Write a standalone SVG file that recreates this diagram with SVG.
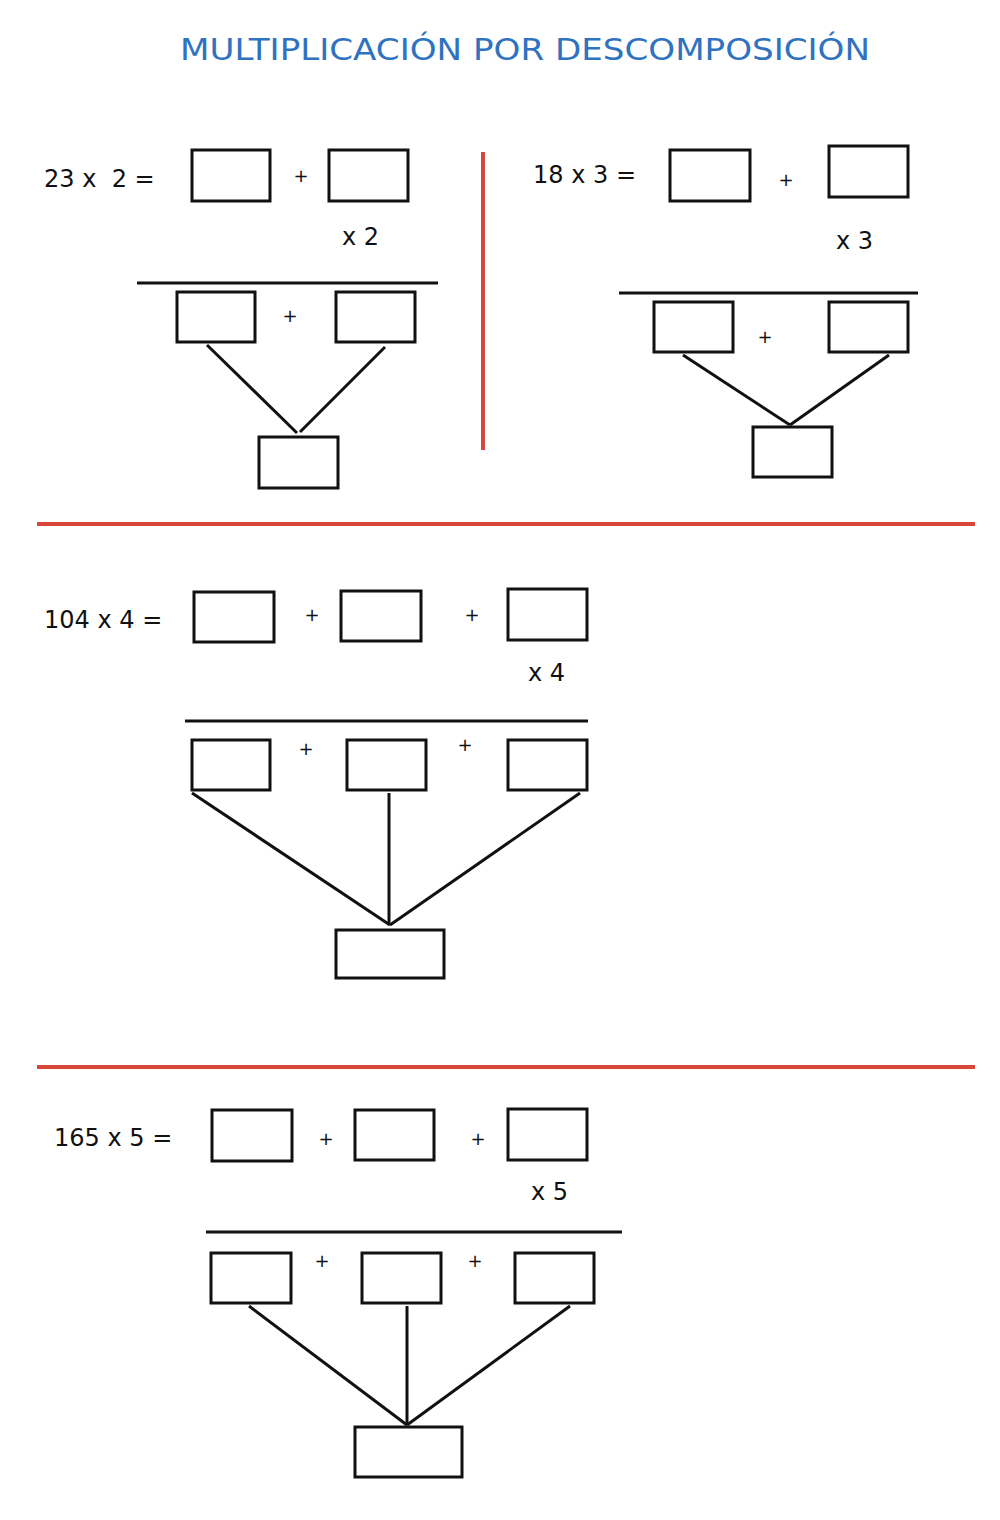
<svg xmlns="http://www.w3.org/2000/svg" width="1000" height="1520" viewBox="0 0 1000 1520">
<style>
.b{fill:none;stroke:#111;stroke-width:3}
.l{stroke:#111;stroke-width:3}
.r{stroke:#d9463a;stroke-width:4}
.t{font-family:"DejaVu Sans",sans-serif;font-size:24px;fill:#111;white-space:pre}
.p{font-family:"DejaVu Sans",sans-serif;font-size:18px;fill:#111;text-anchor:middle}
.h{font-family:"DejaVu Sans",sans-serif;font-size:30px;fill:#2f73c0}
</style>
<rect width="1000" height="1520" fill="#fff"/>
<text class="h" x="180" y="60" textLength="690" lengthAdjust="spacingAndGlyphs">MULTIPLICACIÓN POR DESCOMPOSICIÓN</text>
<g id="separators">
<line class="r" x1="483" y1="152" x2="483" y2="450"/>
<line class="r" x1="37" y1="524" x2="975" y2="524"/>
<line class="r" x1="37" y1="1067" x2="975" y2="1067"/>
</g>
<g id="p1">
<text class="t" x="44" y="187" xml:space="preserve">23 x  2 =</text>
<rect class="b" x="192" y="150" width="78" height="51"/><rect class="b" x="329" y="150" width="79" height="51"/>
<text class="p" x="301" y="182">+</text>
<text class="t" x="342" y="245">x 2</text>
<line class="l" x1="137" y1="283" x2="438" y2="283"/>
<rect class="b" x="177" y="292" width="78" height="50"/><rect class="b" x="336" y="292" width="79" height="50"/>
<text class="p" x="290" y="322">+</text>
<rect class="b" x="259" y="437" width="79" height="51"/>
</g>
<g id="p2">
<text class="t" x="533" y="183">18 x 3 =</text>
<rect class="b" x="670" y="150" width="80" height="51"/><rect class="b" x="829" y="146" width="79" height="51"/>
<text class="p" x="786" y="186">+</text>
<text class="t" x="836" y="249">x 3</text>
<line class="l" x1="619" y1="293" x2="918" y2="293"/>
<rect class="b" x="654" y="302" width="79" height="50"/><rect class="b" x="829" y="302" width="79" height="50"/>
<text class="p" x="765" y="343">+</text>
<rect class="b" x="753" y="427" width="79" height="50"/>
</g>
<g id="p3">
<text class="t" x="44" y="628">104 x 4 =</text>
<rect class="b" x="194" y="592" width="80" height="50"/><rect class="b" x="341" y="591" width="80" height="50"/><rect class="b" x="508" y="589" width="79" height="51"/>
<text class="p" x="312" y="621">+</text><text class="p" x="472" y="621">+</text>
<text class="t" x="528" y="681">x 4</text>
<line class="l" x1="185" y1="721" x2="588" y2="721"/>
<rect class="b" x="192" y="740" width="78" height="50"/><rect class="b" x="347" y="740" width="79" height="50"/><rect class="b" x="508" y="740" width="79" height="50"/>
<text class="p" x="306" y="755">+</text><text class="p" x="465" y="751">+</text>
<rect class="b" x="336" y="930" width="108" height="48"/>
</g>
<g id="p4">
<text class="t" x="54" y="1146">165 x 5 =</text>
<rect class="b" x="212" y="1110" width="80" height="51"/><rect class="b" x="355" y="1110" width="79" height="50"/><rect class="b" x="508" y="1109" width="79" height="51"/>
<text class="p" x="326" y="1145">+</text><text class="p" x="478" y="1145">+</text>
<text class="t" x="531" y="1200">x 5</text>
<line class="l" x1="206" y1="1232" x2="622" y2="1232"/>
<rect class="b" x="211" y="1253" width="80" height="50"/><rect class="b" x="362" y="1253" width="79" height="50"/><rect class="b" x="515" y="1253" width="79" height="50"/>
<text class="p" x="322" y="1267">+</text><text class="p" x="475" y="1267">+</text>
<rect class="b" x="355" y="1427" width="107" height="50"/>
</g>
<g id="connectors">
<line class="l" x1="207" y1="345" x2="297" y2="433"/><line class="l" x1="385" y1="347" x2="300" y2="432"/>
<line class="l" x1="683" y1="355" x2="790" y2="425"/><line class="l" x1="889" y1="355" x2="790" y2="425"/>
<line class="l" x1="192" y1="793" x2="390" y2="925"/><line class="l" x1="389" y1="793" x2="389" y2="925"/><line class="l" x1="580" y1="793" x2="390" y2="925"/>
<line class="l" x1="249" y1="1306" x2="407" y2="1425"/><line class="l" x1="407" y1="1306" x2="407" y2="1425"/><line class="l" x1="570" y1="1306" x2="407" y2="1425"/>
</g>
</svg>
